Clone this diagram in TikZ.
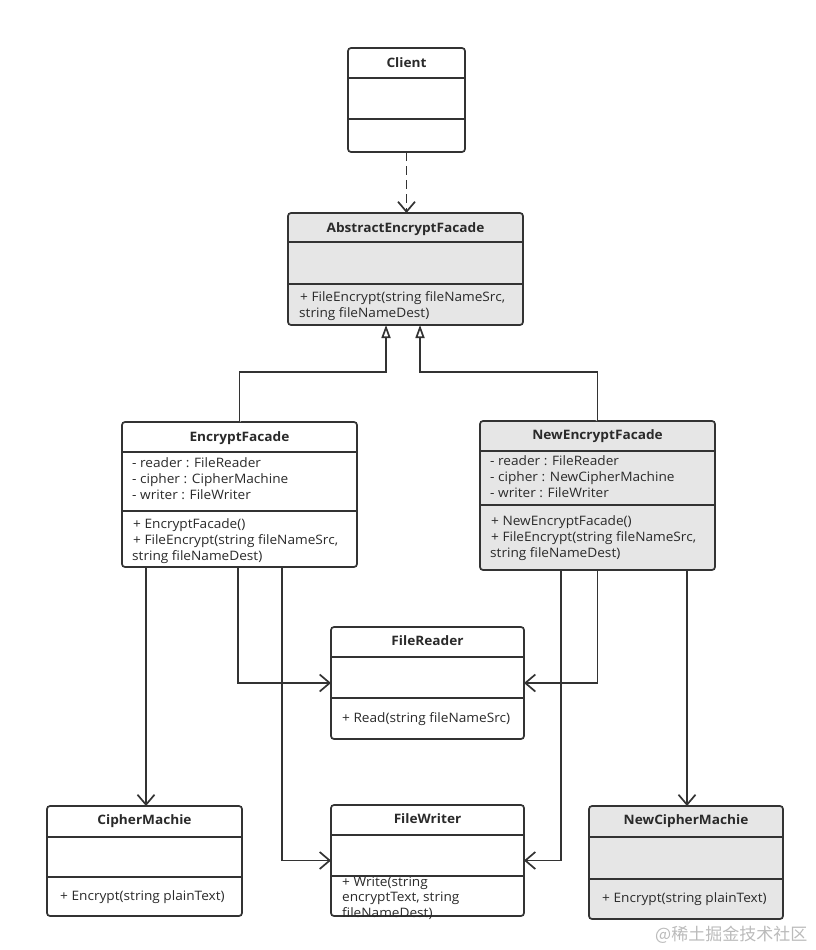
\documentclass[tikz,border=0pt]{standalone}
\usepackage{fontspec}
\setmainfont{Open Sans}[FakeStretch=1.05]
\newfontfamily\cjk{Noto Sans CJK SC}
\usetikzlibrary{arrows.meta}
\definecolor{ln}{HTML}{333333}
\definecolor{tx}{HTML}{2A2A2A}
\definecolor{gr}{HTML}{E6E6E6}
\definecolor{wm}{HTML}{BBBBBB}
\begin{document}
\begin{tikzpicture}[x=1pt,y=-1pt,
  box/.style={draw=ln, line width=1.7pt, rounded corners=3pt, anchor=north west, inner sep=0pt, outer sep=0pt},
  div/.style={draw=ln, line width=1.7pt},
  ttl/.style={anchor=base, inner sep=0pt, text=tx, font=\fontsize{13}{16}\selectfont\bfseries},
  txt/.style={anchor=base west, inner sep=0pt, text=tx, font=\fontsize{13}{16}\selectfont},
  con/.style={draw=ln, line width=1.7pt},
  asc/.style={con, -{Straight Barb[length=10pt,width=17pt,line width=1.7pt]}},
  dep/.style={asc, dash pattern=on 9pt off 5pt},
  inh/.style={con, -{Triangle[open,length=13pt,width=9pt,line width=1.7pt]}, fill=white}
]
\useasboundingbox[fill=white] (0,0) rectangle (815,950);

% Client
\node[box, fill=white, minimum width=117pt, minimum height=104pt] (client) at (348,48) {};
\draw[div] (348,78) -- (465,78);
\draw[div] (348,119) -- (465,119);
\node[ttl] (clientT) at (406.5,67.5) {Client};

% AbstractEncryptFacade
\node[box, fill=gr, minimum width=235pt, minimum height=112pt] (aef) at (288,213) {};
\draw[div] (288,242) -- (523,242);
\draw[div] (288,284) -- (523,284);
\node[ttl] (aefT) at (405.5,232.5) {AbstractEncryptFacade};
\node[txt] (aefM1) at (300,301.5) {+ FileEncrypt(string fileNameSrc,};
\node[txt] (aefM2) at (299,317.5) {string fileNameDest)};

% EncryptFacade
\node[box, fill=white, minimum width=235pt, minimum height=145pt] (ef) at (122,422) {};
\draw[div] (122,452) -- (357,452);
\draw[div] (122,511) -- (357,511);
\node[ttl] (efT) at (239.5,441.5) {EncryptFacade};
\node[txt] (efA1) at (132,467.5) {- reader : FileReader};
\node[txt] (efA2) at (132,483.5) {- cipher : CipherMachine};
\node[txt] (efA3) at (132,499.5) {- writer : FileWriter};
\node[txt] (efM1) at (133,528.5) {+ EncryptFacade()};
\node[txt] (efM2) at (133,544.5) {+ FileEncrypt(string fileNameSrc,};
\node[txt] (efM3) at (132,560.5) {string fileNameDest)};

% NewEncryptFacade
\node[box, fill=gr, minimum width=235pt, minimum height=149pt] (nef) at (480,421) {};
\draw[div] (480,451) -- (715,451);
\draw[div] (480,505) -- (715,505);
\node[ttl] (nefT) at (597.5,439.5) {NewEncryptFacade};
\node[txt] (nefA1) at (490,465.5) {- reader : FileReader};
\node[txt] (nefA2) at (490,481.5) {- cipher : NewCipherMachine};
\node[txt] (nefA3) at (490,497.5) {- writer : FileWriter};
\node[txt] (nefM1) at (491,525.5) {+ NewEncryptFacade()};
\node[txt] (nefM2) at (491,541.5) {+ FileEncrypt(string fileNameSrc,};
\node[txt] (nefM3) at (490,557.5) {string fileNameDest)};

% FileReader
\node[box, fill=white, minimum width=193pt, minimum height=112pt] (fr) at (331,627) {};
\draw[div] (331,657) -- (524,657);
\draw[div] (331,698) -- (524,698);
\node[ttl] (frT) at (427.5,645.5) {FileReader};
\node[txt] (frM1) at (342,722.5) {+ Read(string fileNameSrc)};

% CipherMachie
\node[box, fill=white, minimum width=195pt, minimum height=110pt] (cm) at (47,806) {};
\draw[div] (47,837) -- (242,837);
\draw[div] (47,877) -- (242,877);
\node[ttl] (cmT) at (144.5,824.5) {CipherMachie};
\node[txt] (cmM1) at (60,900.5) {+ Encrypt(string plainText)};

% FileWriter
\node[box, fill=white, minimum width=193pt, minimum height=111pt] (fw) at (331,805) {};
\draw[div] (331,835) -- (524,835);
\node[ttl] (fwT) at (427.5,823.5) {FileWriter};
\node[txt] (fwM1) at (342,886) {+ Write(string};
\node[txt] (fwM2) at (342,901.5) {encryptText, string};
\node[txt] (fwM3) at (342,917) {fileNameDest)};
\draw[div] (331,876) -- (524,876);

% NewCipherMachie
\node[box, fill=gr, minimum width=194pt, minimum height=113pt] (ncm) at (589,806) {};
\draw[div] (589,837) -- (783,837);
\draw[div] (589,879) -- (783,879);
\node[ttl] (ncmT) at (686,824.5) {NewCipherMachie};
\node[txt] (ncmM1) at (602,902.5) {+ Encrypt(string plainText)};

% connectors
\draw[dep] (client.south) -- (client.south |- aef.north);
\draw[inh] (ef.north) -- (ef.north |- 0,372) -| ([xshift=-19.5pt]aef.south);
\draw[inh] (nef.north) -- (nef.north |- 0,372) -| ([xshift=14.5pt]aef.south);
\draw[asc] ([xshift=-93.5pt]ef.south) -- ([xshift=-93.5pt]ef.south |- cm.north);
\draw[asc] ([xshift=-1.5pt]ef.south) |- (fr.west);
\draw[asc] ([xshift=42.5pt]ef.south) |- (fw.west);
\draw[asc] (nef.south) |- (fr.east);
\draw[asc] ([xshift=-36.5pt]nef.south) |- (fw.east);
\draw[asc] ([xshift=89.5pt]nef.south) -- ([xshift=89.5pt]nef.south |- ncm.north);

% watermark
\node[anchor=base west, inner sep=0pt, text=wm, font=\cjk\fontsize{17}{19}\selectfont] (wmk) at (655,940) {@稀土掘金技术社区};
\end{tikzpicture}
\end{document}
